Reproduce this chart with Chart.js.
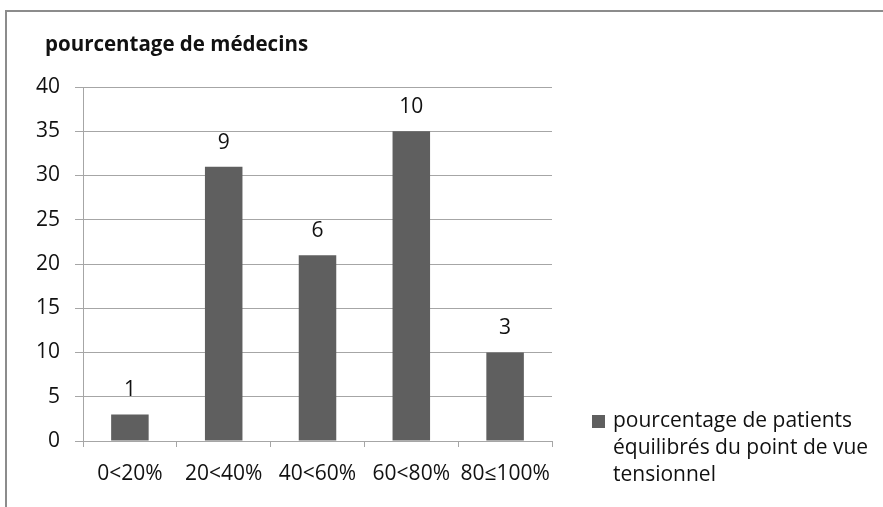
<!DOCTYPE html>
<html>
<head>
<meta charset="utf-8">
<script src="https://cdn.jsdelivr.net/npm/chart.js@4/dist/chart.umd.min.js"></script>
<style>
  html, body { margin: 0; padding: 0; background: #ffffff; overflow: hidden; }
  #wrap { position: relative; width: 883px; height: 507px; }
</style>
</head>
<body>
<div id="wrap"><canvas id="c" width="883" height="507"></canvas></div>
<script>
// ---- data ----
const categories = ["0<20%", "20<40%", "40<60%", "60<80%", "80\u2264100%"];
const values = [3, 31, 21, 35, 10];
const counts = ["1", "9", "6", "10", "3"];
const yTicks = [0, 5, 10, 15, 20, 25, 30, 35, 40];
const yAxisTitle = "pourcentage de médecins";
const seriesName = ["pourcentage de patients", "équilibrés du point de vue", "tensionnel"];

const FONT = "'Open Sans', sans-serif";
const BAR = "#5f5f5f";
const GRID = "#a6a6a6";
const TEXT = "#111111";

const decorPlugin = {
  id: "decor",
  beforeDraw(chart) {
    const ctx = chart.ctx;
    ctx.save();
    ctx.fillStyle = "#ffffff";
    ctx.fillRect(0, 0, chart.width, chart.height);
    ctx.strokeStyle = "#8c8c8c";
    ctx.lineWidth = 2;
    ctx.beginPath();
    ctx.moveTo(6, chart.height + 5);
    ctx.lineTo(6, 11);
    ctx.lineTo(chart.width + 5, 11);
    ctx.stroke();
    ctx.restore();
  },
  afterDraw(chart) {
    const ctx = chart.ctx;
    ctx.save();
    // axis title
    ctx.fillStyle = TEXT;
    ctx.font = "bold 20.5px " + FONT;
    ctx.textAlign = "left";
    ctx.textBaseline = "middle";
    ctx.fillText(yAxisTitle, 45, 45);
    // data labels
    const meta = chart.getDatasetMeta(0);
    ctx.font = "21px " + FONT;
    ctx.textAlign = "center";
    meta.data.forEach((bar, i) => {
      ctx.fillText(counts[i], bar.x, bar.y - 24);
    });
    // legend
    ctx.fillStyle = BAR;
    ctx.fillRect(592, 415, 13, 13);
    ctx.fillStyle = TEXT;
    ctx.font = "21px " + FONT;
    ctx.textAlign = "left";
    seriesName.forEach((line, i) => {
      ctx.fillText(line, 613, 421 + i * 27);
    });
    ctx.restore();
  }
};

new Chart(document.getElementById("c"), {
  type: "bar",
  data: {
    labels: categories,
    datasets: [{
      label: seriesName.join(" "),
      data: values,
      backgroundColor: BAR,
      borderWidth: 0,
      barPercentage: 0.4,
      categoryPercentage: 1.0
    }]
  },
  options: {
    responsive: false,
    animation: false,
    events: [],
    layout: { padding: { left: 0, top: 87, right: 331, bottom: 0 } },
    plugins: { legend: { display: false }, tooltip: { enabled: false }, title: { display: false } },
    scales: {
      x: {
        offset: true,
        grid: { offset: true, drawOnChartArea: false, drawTicks: true, tickLength: 6, color: GRID, lineWidth: 1 },
        border: { display: true, color: GRID, width: 1 },
        ticks: { color: TEXT, font: { family: FONT, size: 21 }, padding: 14, maxRotation: 0, autoSkip: false },
        afterFit(scale) { scale.height = 66; }
      },
      y: {
        min: 0, max: 40,
        afterBuildTicks(scale) { scale.ticks = yTicks.map(v => ({ value: v })); },
        grid: { color: GRID, lineWidth: 1, drawTicks: true, tickLength: 8 },
        border: { display: true, color: GRID, width: 1 },
        ticks: { color: TEXT, font: { family: FONT, size: 21 }, padding: 15 },
        afterFit(scale) { scale.width = 83; }
      }
    }
  },
  plugins: [decorPlugin]
});
</script>
</body>
</html>
